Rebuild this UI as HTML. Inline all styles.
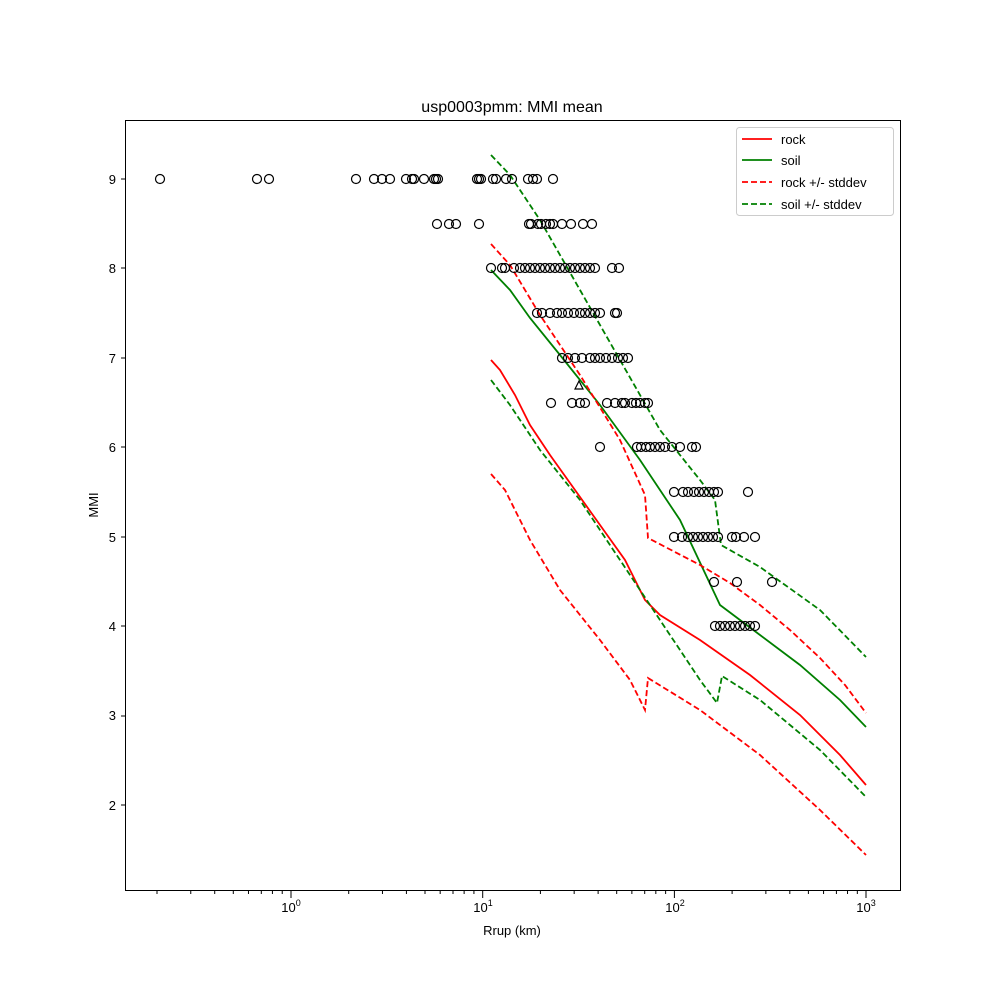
<!DOCTYPE html>
<html><head><meta charset="utf-8"><style>body{margin:0;background:#fff}svg{display:block}text{font-family:"Liberation Sans","DejaVu Sans",sans-serif;fill:#000}</style></head><body>
<svg id="s" width="1000" height="1000" viewBox="0 0 1000 1000" xmlns="http://www.w3.org/2000/svg">
<rect width="1000" height="1000" fill="#fff"/>
<text x="512" y="112" font-size="16" text-anchor="middle">usp0003pmm: MMI mean</text>
<g fill="none" stroke-width="1.8">
<polyline stroke="#ff0000" points="491,360 500,370 515,395 530,425 550,455 575,490 600,525 625,560 645,600 660,615 700,640 750,675 800,715 840,755 866,785"/>
<polyline stroke="#008000" points="491,270 510,290 530,318 560,355 600,405 640,460 680,520 720,605 760,635 800,665 840,700 866,727"/>
<polyline stroke="#ff0000" stroke-dasharray="6,3" points="491,244 510,265 540,315 580,375 620,440 645,495 648,538 700,565 730,583 760,605 790,630 820,658 845,685 866,713"/>
<polyline stroke="#ff0000" stroke-dasharray="6,3" points="491,474 505,490 530,540 560,590 600,640 630,680 645,710 648,678 700,710 760,755 820,810 866,855"/>
<polyline stroke="#008000" stroke-dasharray="6,3" points="491,155 510,175 540,220 580,290 620,360 660,430 700,480 715,500 721,545 760,567 820,610 866,657"/>
<polyline stroke="#008000" stroke-dasharray="6,3" points="491,380 510,405 540,450 580,500 620,560 660,620 700,680 717,703 722,676 760,700 820,750 866,797"/>
</g>
<g id="pts" fill="none" stroke="#000" stroke-width="1.2"></g>
<polygon points="579,381 575,389 583,389" fill="none" stroke="#000" stroke-width="1.2"/>
<rect x="125.5" y="120.5" width="775" height="770" fill="none" stroke="#000" stroke-width="1"/>
<g id="ax" stroke="#000"></g>
<g font-size="13" text-anchor="end">
<text x="116" y="184">9</text><text x="116" y="273">8</text><text x="116" y="363">7</text><text x="116" y="452">6</text><text x="116" y="542">5</text><text x="116" y="631">4</text><text x="116" y="720">3</text><text x="116" y="810">2</text>
</g>
<g font-size="13" text-anchor="middle">
<text x="291" y="912">10<tspan font-size="9" dy="-6">0</tspan></text>
<text x="483" y="912">10<tspan font-size="9" dy="-6">1</tspan></text>
<text x="675" y="912">10<tspan font-size="9" dy="-6">2</tspan></text>
<text x="866" y="912">10<tspan font-size="9" dy="-6">3</tspan></text>
<text x="512" y="935">Rrup (km)</text>
</g>
<text x="98" y="505" font-size="13" text-anchor="middle" transform="rotate(-90 98 505)">MMI</text>
<rect x="736.5" y="127.5" width="157" height="88" rx="3" fill="#fff" stroke="#ccc"/>
<g stroke-width="1.8">
<line x1="742" y1="139" x2="772" y2="139" stroke="#f00"/>
<line x1="742" y1="160" x2="772" y2="160" stroke="#008000"/>
<line x1="742" y1="182" x2="772" y2="182" stroke="#f00" stroke-dasharray="6,3"/>
<line x1="742" y1="204" x2="772" y2="204" stroke="#008000" stroke-dasharray="6,3"/>
</g>
<g font-size="13"><text x="781" y="144">rock</text><text x="781" y="165">soil</text><text x="781" y="187">rock +/- stddev</text><text x="781" y="209">soil +/- stddev</text></g>
</svg>
<script>
var rows={179:[160,257,269,356,374,382,390,406,412,414,424,434,436,438,477,479,481,493,496,506,512,528,533,537,553],
224:[437,449,456,479,529,531,538,541,546,550,553,562,571,583,592],
268:[491,502,505,514,520,525,530,535,540,545,550,555,560,565,570,575,580,585,590,595,612,619],
313:[537,542,550,557,562,568,574,580,585,590,595,600,615,617],
358:[562,568,575,582,590,595,600,606,612,618,623,628],
403:[551,572,580,585,607,615,622,625,632,636,640,645,648],
447:[600,637,641,646,650,655,660,665,672,680,692,696],
492:[674,683,688,694,699,704,709,714,718,748],
537:[674,682,688,693,698,703,708,713,718,732,736,744,755],
582:[714,737,772],
626:[715,720,725,730,735,740,745,750,755]};
var g=document.getElementById('pts'),h='';
for(var y in rows)rows[y].forEach(function(x){h+='<circle cx="'+x+'" cy="'+y+'" r="4.5"/>';});
g.innerHTML=h;
var a='',yt=[179,268,358,447,537,626,716,805];
yt.forEach(function(y){a+='<line x1="121" x2="125" y1="'+y+'" y2="'+y+'"/>';});
for(var d=-1;d<3;d++)for(var k=1;k<10;k++){var x=291+191.7*(d+Math.log10(k));if(x<126||x>900)continue;a+='<line x1="'+x+'" x2="'+x+'" y1="891" y2="'+(k==1?898:894)+'"/>';}
a+='<line x1="866" x2="866" y1="891" y2="898"/>';
document.getElementById('ax').innerHTML=a;
</script>
</body></html>
